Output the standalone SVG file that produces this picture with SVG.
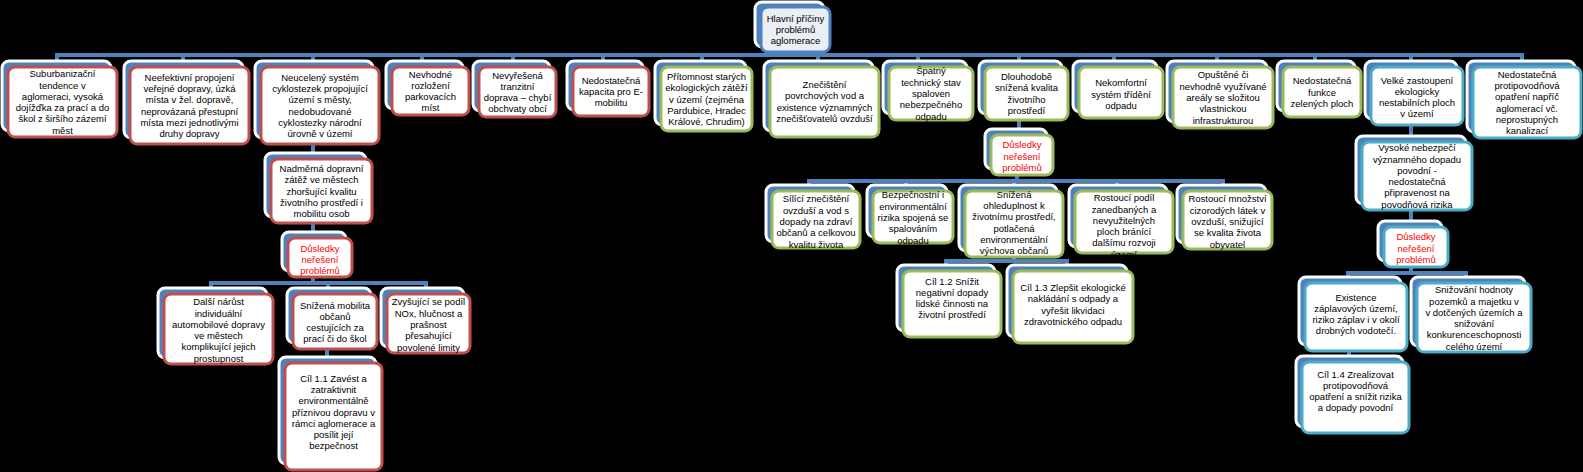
<svg xmlns="http://www.w3.org/2000/svg" width="1583" height="472" viewBox="0 0 1583 472">
<style>
.bg{fill:#000}
.bk{fill:#4F81BD;stroke:#fff;stroke-width:3}
.fr{fill:#fff;stroke-width:3}
.red{stroke:#C0504D}
.grn{stroke:#9BBB59}
.teal{stroke:#4BACC6}
.blu{stroke:#4F81BD;fill:#EAEEF5}
.t{font-family:"Liberation Sans",Arial,sans-serif;font-size:9.5px;fill:#000;text-anchor:middle}
.dr{fill:#FF0000}
.cn{stroke:#4F81BD;stroke-width:4;fill:none}
</style>
<rect class="bg" x="0" y="0" width="1583" height="472"/>
<g id="connectors">
<path class="cn" d="M789 52V55"/>
<path class="cn" d="M57 62V55H1522V62"/>
<path class="cn" d="M183 55V62M313 55V62M422 55V62M513 55V62M603 55V62M702 55V62M818 55V62M918 55V62M1019 55V62M1114 55V62M1217 55V62M1315 55V62M1411 55V62"/>
<path class="cn" d="M313 144V154M313 223V234M313 277V283"/>
<path class="cn" d="M211 290V283H426V290M328 283V290"/>
<path class="cn" d="M327 349V359"/>
<path class="cn" d="M1019 120V131M1017 175V181"/>
<path class="cn" d="M809 187V181H1223V187M906 181V187M1014 181V187M1117 181V187"/>
<path class="cn" d="M1014 257V261"/>
<path class="cn" d="M946 267V261H1067V267"/>
<path class="cn" d="M1411 125V138M1411 210V223M1411 267V273"/>
<path class="cn" d="M1348 279V273H1466V279"/>
<path class="cn" d="M1349 351V358"/>
</g>
<g id="root">
<rect class="bk" x="755" y="2" width="69" height="45" rx="7"/>
<rect class="fr blu" x="761" y="7" width="69" height="45" rx="7"/>
<text class="t" x="795.5" y="21.7"><tspan x="795.5">Hlavní příčiny</tspan><tspan x="795.5" dy="11.3">problémů</tspan><tspan x="795.5" dy="11.3">aglomerace</tspan></text>
</g>
<g id="n1">
<rect class="bk" x="2" y="61" width="109" height="70" rx="7"/>
<rect class="fr red" x="8" y="67" width="109" height="70" rx="7"/>
<text class="t" x="62.5" y="77.25"><tspan x="62.5">Suburbanizační</tspan><tspan x="62.5" dy="11.3">tendence v</tspan><tspan x="62.5" dy="11.3">aglomeraci, vysoká</tspan><tspan x="62.5" dy="11.3">dojížďka za prací a do</tspan><tspan x="62.5" dy="11.3">škol z širšího zázemí</tspan><tspan x="62.5" dy="11.3">měst</tspan></text>
</g>
<g id="n2">
<rect class="bk" x="124" y="61" width="119" height="77" rx="7"/>
<rect class="fr red" x="130" y="67" width="119" height="77" rx="7"/>
<text class="t" x="189.5" y="80.75"><tspan x="189.5">Neefektivní propojení</tspan><tspan x="189.5" dy="11.3">veřejné dopravy, úzká</tspan><tspan x="189.5" dy="11.3">místa v žel. dopravě,</tspan><tspan x="189.5" dy="11.3">neprovázaná přestupní</tspan><tspan x="189.5" dy="11.3">místa mezi jednotlivými</tspan><tspan x="189.5" dy="11.3">druhy dopravy</tspan></text>
</g>
<g id="n3">
<rect class="bk" x="255" y="61" width="118" height="77" rx="7"/>
<rect class="fr red" x="261" y="67" width="118" height="77" rx="7"/>
<text class="t" x="320" y="80.75"><tspan x="320">Neucelený systém</tspan><tspan x="320" dy="11.3">cyklostezek propojující</tspan><tspan x="320" dy="11.3">území s městy,</tspan><tspan x="320" dy="11.3">nedobudované</tspan><tspan x="320" dy="11.3">cyklostezky národní</tspan><tspan x="320" dy="11.3">úrovně v území</tspan></text>
</g>
<g id="n4">
<rect class="bk" x="386" y="61" width="77" height="48" rx="7"/>
<rect class="fr red" x="392" y="67" width="77" height="48" rx="7"/>
<text class="t" x="430.5" y="77.55"><tspan x="430.5">Nevhodné</tspan><tspan x="430.5" dy="11.3">rozložení</tspan><tspan x="430.5" dy="11.3">parkovacích</tspan><tspan x="430.5" dy="11.3">míst</tspan></text>
</g>
<g id="n5">
<rect class="bk" x="473" y="61" width="77" height="50" rx="7"/>
<rect class="fr red" x="479" y="67" width="77" height="50" rx="7"/>
<text class="t" x="517.5" y="78.55"><tspan x="517.5">Nevyřešená</tspan><tspan x="517.5" dy="11.3">tranzitní</tspan><tspan x="517.5" dy="11.3">doprava – chybí</tspan><tspan x="517.5" dy="11.3">obchvaty obcí</tspan></text>
</g>
<g id="n6">
<rect class="bk" x="567" y="61" width="76" height="49" rx="7"/>
<rect class="fr red" x="573" y="67" width="76" height="49" rx="7"/>
<text class="t" x="611" y="83.7"><tspan x="611">Nedostatečná</tspan><tspan x="611" dy="11.3">kapacita pro E-</tspan><tspan x="611" dy="11.3">mobilitu</tspan></text>
</g>
<g id="n7">
<rect class="bk" x="655" y="61" width="91" height="64" rx="7"/>
<rect class="fr grn" x="661" y="67" width="91" height="64" rx="7"/>
<text class="t" x="706.5" y="79.9"><tspan x="706.5">Přítomnost starých</tspan><tspan x="706.5" dy="11.3">ekologických zátěží</tspan><tspan x="706.5" dy="11.3">v území (zejména</tspan><tspan x="706.5" dy="11.3">Pardubice, Hradec</tspan><tspan x="706.5" dy="11.3">Králové, Chrudim)</tspan></text>
</g>
<g id="n8">
<rect class="bk" x="764" y="61" width="109" height="70" rx="7"/>
<rect class="fr grn" x="770" y="67" width="109" height="70" rx="7"/>
<text class="t" x="824.5" y="88.05"><tspan x="824.5">Znečištění</tspan><tspan x="824.5" dy="11.3">povrchových vod a</tspan><tspan x="824.5" dy="11.3">existence významných</tspan><tspan x="824.5" dy="11.3">znečišťovatelů ovzduší</tspan></text>
</g>
<g id="n9">
<rect class="bk" x="883" y="61" width="84" height="53" rx="7"/>
<rect class="fr grn" x="889" y="67" width="84" height="53" rx="7"/>
<text class="t" x="931" y="74.4"><tspan x="931">Špatný</tspan><tspan x="931" dy="11.3">technický stav</tspan><tspan x="931" dy="11.3">spaloven</tspan><tspan x="931" dy="11.3">nebezpečného</tspan><tspan x="931" dy="11.3">odpadu</tspan></text>
</g>
<g id="n10">
<rect class="bk" x="979" y="61" width="83" height="53" rx="7"/>
<rect class="fr grn" x="985" y="67" width="83" height="53" rx="7"/>
<text class="t" x="1026.5" y="80.05"><tspan x="1026.5">Dlouhodobě</tspan><tspan x="1026.5" dy="11.3">snížená kvalita</tspan><tspan x="1026.5" dy="11.3">životního</tspan><tspan x="1026.5" dy="11.3">prostředí</tspan></text>
</g>
<g id="n11">
<rect class="bk" x="1073" y="61" width="84" height="51" rx="7"/>
<rect class="fr grn" x="1079" y="67" width="84" height="51" rx="7"/>
<text class="t" x="1121" y="86.2"><tspan x="1121">Nekomfortní</tspan><tspan x="1121" dy="11.3">systém třídění</tspan><tspan x="1121" dy="11.3">odpadu</tspan></text>
</g>
<g id="n12">
<rect class="bk" x="1167" y="61" width="100" height="61" rx="7"/>
<rect class="fr grn" x="1173" y="67" width="100" height="61" rx="7"/>
<text class="t" x="1223" y="78.4"><tspan x="1223">Opuštěné či</tspan><tspan x="1223" dy="11.3">nevhodně využívané</tspan><tspan x="1223" dy="11.3">areály se složitou</tspan><tspan x="1223" dy="11.3">vlastnickou</tspan><tspan x="1223" dy="11.3">infrastrukturou</tspan></text>
</g>
<g id="n13">
<rect class="bk" x="1277" y="61" width="78" height="50" rx="7"/>
<rect class="fr grn" x="1283" y="67" width="78" height="50" rx="7"/>
<text class="t" x="1322" y="84.2"><tspan x="1322">Nedostatečná</tspan><tspan x="1322" dy="11.3">funkce</tspan><tspan x="1322" dy="11.3">zelených ploch</tspan></text>
</g>
<g id="n14">
<rect class="bk" x="1365" y="61" width="92" height="58" rx="7"/>
<rect class="fr teal" x="1371" y="67" width="92" height="58" rx="7"/>
<text class="t" x="1417" y="83.55"><tspan x="1417">Velké zastoupení</tspan><tspan x="1417" dy="11.3">ekologicky</tspan><tspan x="1417" dy="11.3">nestabilních ploch</tspan><tspan x="1417" dy="11.3">v území</tspan></text>
</g>
<g id="n15">
<rect class="bk" x="1467" y="61" width="108" height="71" rx="7"/>
<rect class="fr teal" x="1473" y="67" width="108" height="71" rx="7"/>
<text class="t" x="1527" y="77.75"><tspan x="1527">Nedostatečná</tspan><tspan x="1527" dy="11.3">protipovodňová</tspan><tspan x="1527" dy="11.3">opatření napříč</tspan><tspan x="1527" dy="11.3">aglomerací vč.</tspan><tspan x="1527" dy="11.3">neprostupných</tspan><tspan x="1527" dy="11.3">kanalizací</tspan></text>
</g>
<g id="n3a">
<rect class="bk" x="265" y="153" width="101" height="64" rx="7"/>
<rect class="fr red" x="271" y="159" width="101" height="64" rx="7"/>
<text class="t" x="321.5" y="171.9"><tspan x="321.5">Nadměrná dopravní</tspan><tspan x="321.5" dy="11.3">zátěž ve městech</tspan><tspan x="321.5" dy="11.3">zhoršující kvalitu</tspan><tspan x="321.5" dy="11.3">životního prostředí i</tspan><tspan x="321.5" dy="11.3">mobilitu osob</tspan></text>
</g>
<g id="d1">
<rect class="bk" x="282" y="232" width="64" height="39" rx="7"/>
<rect class="fr red" x="288" y="238" width="64" height="39" rx="7"/>
<text class="t dr" x="320" y="251.7"><tspan x="320">Důsledky</tspan><tspan x="320" dy="11.3">neřešení</tspan><tspan x="320" dy="11.3">problémů</tspan></text>
</g>
<g id="a1">
<rect class="bk" x="158" y="288" width="109" height="70" rx="7"/>
<rect class="fr red" x="164" y="294" width="109" height="70" rx="7"/>
<text class="t" x="218.5" y="305.25"><tspan x="218.5">Další nárůst</tspan><tspan x="218.5" dy="11.3">individuální</tspan><tspan x="218.5" dy="11.3">automobilové dopravy</tspan><tspan x="218.5" dy="11.3">ve městech</tspan><tspan x="218.5" dy="11.3">komplikující jejich</tspan><tspan x="218.5" dy="11.3">prostupnost</tspan></text>
</g>
<g id="a2">
<rect class="bk" x="287" y="288" width="84" height="55" rx="7"/>
<rect class="fr red" x="293" y="294" width="84" height="55" rx="7"/>
<text class="t" x="335" y="308.55"><tspan x="335">Snížená mobilita</tspan><tspan x="335" dy="11.3">občanů</tspan><tspan x="335" dy="11.3">cestujících za</tspan><tspan x="335" dy="11.3">prací či do škol</tspan></text>
</g>
<g id="a3">
<rect class="bk" x="381" y="288" width="83" height="59" rx="7"/>
<rect class="fr red" x="387" y="294" width="83" height="59" rx="7"/>
<text class="t" x="428.5" y="305.4"><tspan x="428.5">Zvyšující se podíl</tspan><tspan x="428.5" dy="11.3">NOx, hlučnost a</tspan><tspan x="428.5" dy="11.3">prašnost</tspan><tspan x="428.5" dy="11.3">přesahující</tspan><tspan x="428.5" dy="11.3">povolené limity</tspan></text>
</g>
<g id="g11">
<rect class="bk" x="279" y="357" width="97" height="107" rx="7"/>
<rect class="fr red" x="285" y="363" width="97" height="107" rx="7"/>
<text class="t" x="333.5" y="381.6"><tspan x="333.5">Cíl 1.1 Zavést a</tspan><tspan x="333.5" dy="11.3">zatraktivnit</tspan><tspan x="333.5" dy="11.3">environmentálně</tspan><tspan x="333.5" dy="11.3">příznivou dopravu v</tspan><tspan x="333.5" dy="11.3">rámci aglomerace a</tspan><tspan x="333.5" dy="11.3">posílit její</tspan><tspan x="333.5" dy="11.3">bezpečnost</tspan></text>
</g>
<g id="d2">
<rect class="bk" x="985" y="129" width="62" height="40" rx="7"/>
<rect class="fr grn" x="991" y="135" width="62" height="40" rx="7"/>
<text class="t dr" x="1022" y="148.2"><tspan x="1022">Důsledky</tspan><tspan x="1022" dy="11.3">neřešení</tspan><tspan x="1022" dy="11.3">problémů</tspan></text>
</g>
<g id="b1">
<rect class="bk" x="766" y="185" width="88" height="57" rx="7"/>
<rect class="fr grn" x="772" y="191" width="88" height="57" rx="7"/>
<text class="t" x="816" y="202.4"><tspan x="816">Sílící znečištění</tspan><tspan x="816" dy="11.3">ovzduší a vod s</tspan><tspan x="816" dy="11.3">dopady na zdraví</tspan><tspan x="816" dy="11.3">občanů a celkovou</tspan><tspan x="816" dy="11.3">kvalitu života</tspan></text>
</g>
<g id="b2">
<rect class="bk" x="867" y="185" width="80" height="52" rx="7"/>
<rect class="fr grn" x="873" y="191" width="80" height="52" rx="7"/>
<text class="t" x="913" y="198.4"><tspan x="913">Bezpečnostní i</tspan><tspan x="913" dy="11.3">environmentální</tspan><tspan x="913" dy="11.3">rizika spojená se</tspan><tspan x="913" dy="11.3">spalováním</tspan><tspan x="913" dy="11.3">odpadu</tspan></text>
</g>
<g id="b3">
<rect class="bk" x="959" y="185" width="98" height="66" rx="7"/>
<rect class="fr grn" x="965" y="191" width="98" height="66" rx="7"/>
<text class="t" x="1014" y="197.75"><tspan x="1014">Snížená</tspan><tspan x="1014" dy="11.3">ohleduplnost k</tspan><tspan x="1014" dy="11.3">životnímu prostředí,</tspan><tspan x="1014" dy="11.3">potlačená</tspan><tspan x="1014" dy="11.3">environmentální</tspan><tspan x="1014" dy="11.3">výchova občanů</tspan></text>
</g>
<g id="b4">
<rect class="bk" x="1069" y="185" width="98" height="62" rx="7"/>
<rect class="fr grn" x="1075" y="191" width="98" height="62" rx="7"/>
<text class="t" x="1124" y="201.25"><tspan x="1124">Rostoucí podíl</tspan><tspan x="1124" dy="11.3">zanedbaných a</tspan><tspan x="1124" dy="11.3">nevyužitelných</tspan><tspan x="1124" dy="11.3">ploch bránící</tspan><tspan x="1124" dy="11.3">dalšímu rozvoji</tspan><tspan x="1124" dy="11.3">území</tspan></text>
</g>
<g id="b5">
<rect class="bk" x="1177" y="185" width="89" height="58" rx="7"/>
<rect class="fr grn" x="1183" y="191" width="89" height="58" rx="7"/>
<text class="t" x="1227.5" y="202.4"><tspan x="1227.5">Rostoucí množství</tspan><tspan x="1227.5" dy="11.3">cizorodých látek v</tspan><tspan x="1227.5" dy="11.3">ovzduší, snižující</tspan><tspan x="1227.5" dy="11.3">se kvalita života</tspan><tspan x="1227.5" dy="11.3">obyvatel</tspan></text>
</g>
<g id="g12">
<rect class="bk" x="897" y="265" width="98" height="66" rx="7"/>
<rect class="fr grn" x="903" y="271" width="98" height="66" rx="7"/>
<text class="t" x="952" y="284.55"><tspan x="952">Cíl 1.2 Snížit</tspan><tspan x="952" dy="11.3">negativní dopady</tspan><tspan x="952" dy="11.3">lidské činnosti na</tspan><tspan x="952" dy="11.3">životní prostředí</tspan></text>
</g>
<g id="g13">
<rect class="bk" x="1007" y="265" width="120" height="72" rx="7"/>
<rect class="fr grn" x="1013" y="271" width="120" height="72" rx="7"/>
<text class="t" x="1073" y="291.05"><tspan x="1073">Cíl 1.3 Zlepšit ekologické</tspan><tspan x="1073" dy="11.3">nakládání s odpady a</tspan><tspan x="1073" dy="11.3">vyřešit likvidaci</tspan><tspan x="1073" dy="11.3">zdravotnického odpadu</tspan></text>
</g>
<g id="n14a">
<rect class="bk" x="1356" y="136" width="110" height="68" rx="7"/>
<rect class="fr teal" x="1362" y="142" width="110" height="68" rx="7"/>
<text class="t" x="1417" y="151.25"><tspan x="1417">Vysoké nebezpečí</tspan><tspan x="1417" dy="11.3">významného dopadu</tspan><tspan x="1417" dy="11.3">povodní -</tspan><tspan x="1417" dy="11.3">nedostatečná</tspan><tspan x="1417" dy="11.3">připravenost na</tspan><tspan x="1417" dy="11.3">povodňová rizika</tspan></text>
</g>
<g id="d3">
<rect class="bk" x="1378" y="221" width="64" height="40" rx="7"/>
<rect class="fr teal" x="1384" y="227" width="64" height="40" rx="7"/>
<text class="t dr" x="1416" y="240.2"><tspan x="1416">Důsledky</tspan><tspan x="1416" dy="11.3">neřešení</tspan><tspan x="1416" dy="11.3">problémů</tspan></text>
</g>
<g id="c1">
<rect class="bk" x="1299" y="277" width="102" height="68" rx="7"/>
<rect class="fr teal" x="1305" y="283" width="102" height="68" rx="7"/>
<text class="t" x="1356" y="300.55"><tspan x="1356">Existence</tspan><tspan x="1356" dy="11.3">záplavových území,</tspan><tspan x="1356" dy="11.3">riziko záplav i v okolí</tspan><tspan x="1356" dy="11.3">drobných vodotečí.</tspan></text>
</g>
<g id="c2">
<rect class="bk" x="1411" y="277" width="114" height="69" rx="7"/>
<rect class="fr teal" x="1417" y="283" width="114" height="69" rx="7"/>
<text class="t" x="1474" y="293.25"><tspan x="1474">Snižování hodnoty</tspan><tspan x="1474" dy="11.3">pozemků a majetku v</tspan><tspan x="1474" dy="11.3">v dotčených územích a</tspan><tspan x="1474" dy="11.3">snižování</tspan><tspan x="1474" dy="11.3">konkurenceschopnosti</tspan><tspan x="1474" dy="11.3">celého území</tspan></text>
</g>
<g id="g14">
<rect class="bk" x="1296" y="356" width="107" height="71" rx="7"/>
<rect class="fr teal" x="1302" y="362" width="107" height="71" rx="7"/>
<text class="t" x="1355.5" y="377.55"><tspan x="1355.5">Cíl 1.4 Zrealizovat</tspan><tspan x="1355.5" dy="11.3">protipovodňová</tspan><tspan x="1355.5" dy="11.3">opatření a snížit rizika</tspan><tspan x="1355.5" dy="11.3">a dopady povodní</tspan></text>
</g>
</svg>
